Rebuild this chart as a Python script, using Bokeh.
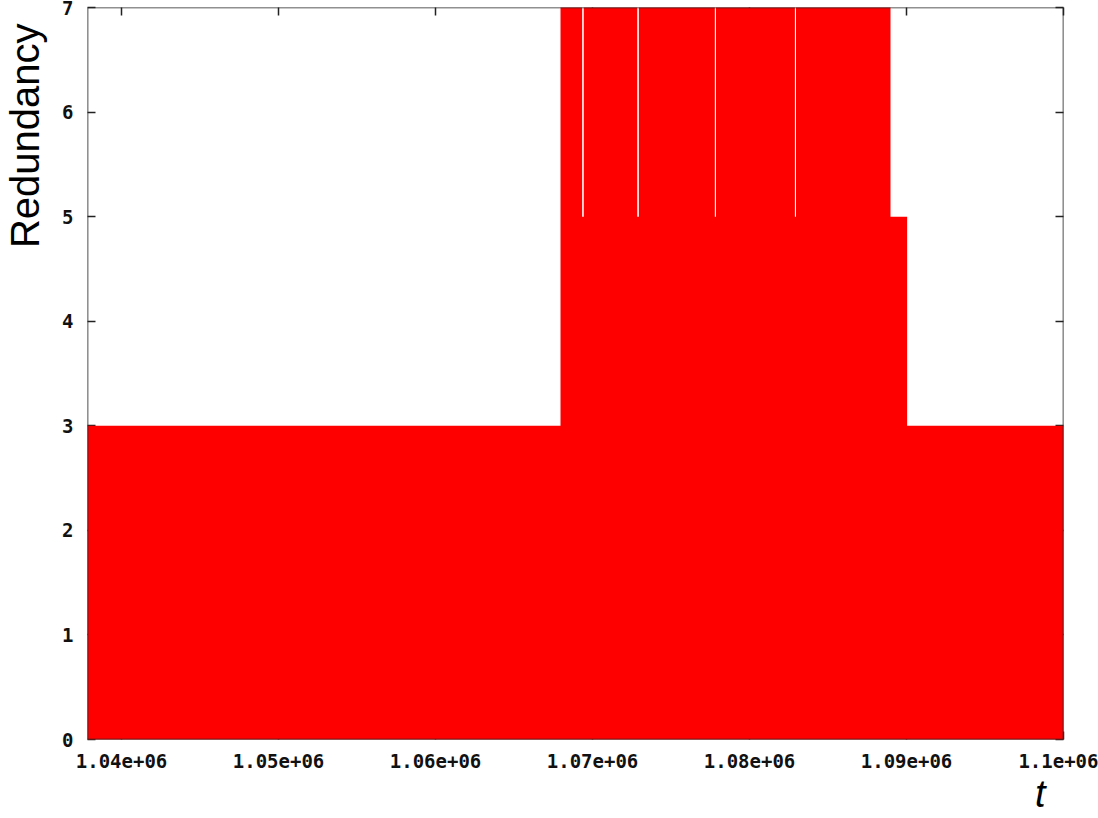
from bokeh.plotting import figure
from bokeh.models import LinearAxis, FixedTicker, Title, BoxAnnotation, Range1d
from bokeh.embed import file_html
from bokeh.resources import INLINE

# ---- data (step function) ----
t_edges = [1037830, 1067960, 1069340, 1069440, 1072850, 1072950,
           1077790, 1077860, 1082890, 1082960, 1088980, 1090040, 1100000]
redundancy = [3, 7, 5, 7, 5, 7, 5, 7, 5, 7, 5, 3]

x_ticks = [1040000, 1050000, 1060000, 1070000, 1080000, 1090000, 1100000]
x_tick_labels = ["1.04e+06", "1.05e+06", "1.06e+06", "1.07e+06",
                 "1.08e+06", "1.09e+06", "1.1e+06"]
y_ticks = [0, 1, 2, 3, 4, 5, 6, 7]
y_tick_labels = ["0", "1", "2", "3", "4", "5", "6", "7"]

SHIFT = 12  # canvas pulled left so the y title can sit at the page edge
W, H = 1098 + SHIFT, 818
p = figure(width=W, height=H,
           x_range=Range1d(t_edges[0], t_edges[-1]), y_range=Range1d(0, 7),
           output_backend="svg", toolbar_location=None,
           min_border_left=87 + SHIFT, min_border_right=35,
           min_border_top=7, min_border_bottom=79)
p.styles = {"margin-left": f"-{SHIFT}px"}
p.xgrid.visible = False
p.ygrid.visible = False
p.outline_line_color = None
p.background_fill_color = "white"
p.border_fill_color = "white"

y_step = redundancy + [redundancy[-1]]
p.varea_step(x=t_edges, y1=[0] * len(t_edges), y2=y_step, step_mode="after",
             fill_color="#ff0000", level="overlay")

# border painted after the fill
border = BoxAnnotation(fill_alpha=0, line_color="#222222", line_alpha=1.0,
                       line_width=1.6, level="overlay")
p.renderers.append(border)

def style(ax, ticks, labels, show_labels):
    ax.ticker = FixedTicker(ticks=ticks)
    ax.axis_line_color = None
    ax.major_tick_in = 8
    ax.major_tick_out = 0
    ax.major_tick_line_color = "#222222"
    ax.major_tick_line_width = 1.5
    ax.minor_tick_line_color = None
    ax.major_label_text_font = "DejaVu Sans Mono"
    ax.major_label_text_font_style = "bold"
    ax.major_label_text_color = "#111111"
    if show_labels:
        ax.major_label_overrides = {t: l for t, l in zip(ticks, labels)}
        ax.major_label_text_font_size = "19px"
    else:
        ax.major_label_overrides = {t: "" for t in ticks}
        ax.major_label_text_font_size = "1px"
        ax.major_label_standoff = 0

style(p.xaxis[0], x_ticks, x_tick_labels, True)
p.xaxis[0].major_label_standoff = 14
style(p.yaxis[0], y_ticks, y_tick_labels, True)
p.yaxis[0].major_label_standoff = 14

top = LinearAxis()
style(top, x_ticks, x_tick_labels, False)
p.add_layout(top, "above")
right = LinearAxis()
style(right, y_ticks, y_tick_labels, False)
p.add_layout(right, "right")

# axis titles
p.add_layout(Title(text="Redundancy", align="right", offset=16,
                   text_font="Liberation Sans", text_font_style="normal",
                   text_font_size="40px", text_color="black", standoff=25),
             "left")
p.add_layout(Title(text="t", align="right", offset=18,
                   text_font="Liberation Sans", text_font_style="italic",
                   text_font_size="38px", text_color="black", standoff=0),
             "below")

open("out.html", "w").write(file_html(p, INLINE))
